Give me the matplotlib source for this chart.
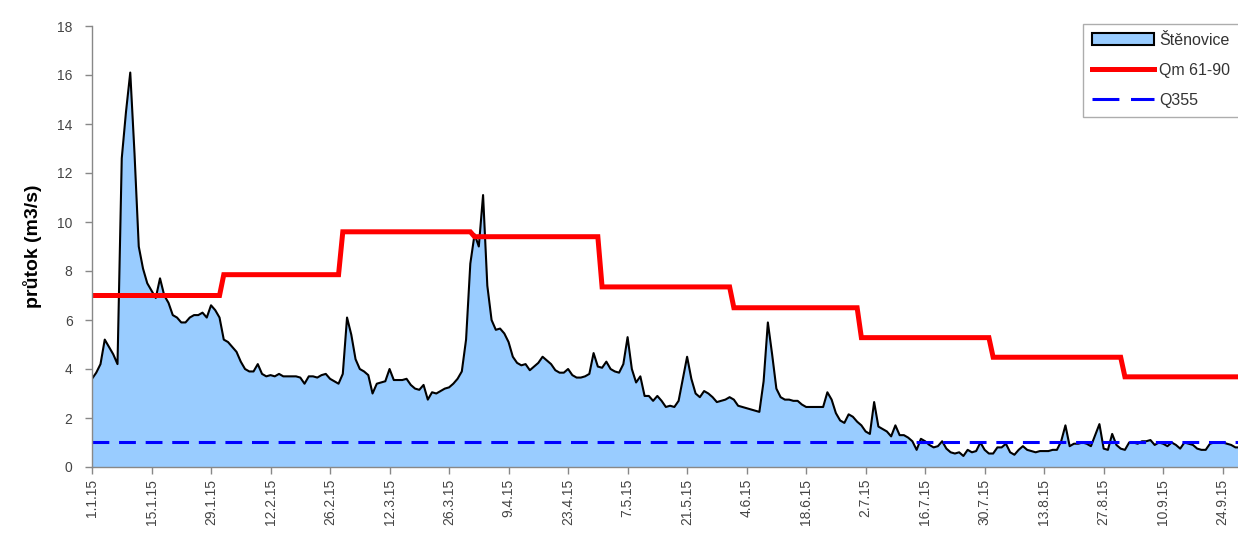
import numpy as np
import matplotlib
matplotlib.use("Agg")
import matplotlib.pyplot as plt
from matplotlib.patches import Patch
from matplotlib.lines import Line2D

# daily flow at Štěnovice, 1.1.2015 - 28.9.2015 (m3/s)
flow = [
    3.6, 3.85, 4.2, 5.2, 4.9, 4.6, 4.2, 12.6, 14.5, 16.1,
    12.8, 9.0, 8.1, 7.5, 7.2, 6.9, 7.7, 7.0, 6.7, 6.2,
    6.1, 5.9, 5.9, 6.1, 6.2, 6.2, 6.3, 6.1, 6.6, 6.4,
    6.1, 5.2, 5.1, 4.9, 4.7,
    4.3, 4.0, 3.9, 3.9, 4.2, 3.8, 3.7, 3.75, 3.7, 3.8,
    3.7, 3.7, 3.7, 3.7, 3.65, 3.4, 3.7, 3.7, 3.65, 3.75,
    3.8, 3.6, 3.5, 3.4, 3.8, 6.1, 5.4, 4.4, 4.0, 3.9,
    3.75, 3.0,
    3.4, 3.45, 3.5, 4.0, 3.55, 3.55, 3.55, 3.6, 3.35, 3.2,
    3.15, 3.35, 2.75, 3.05, 3.0, 3.1, 3.2, 3.25, 3.4, 3.6,
    3.9, 5.2, 8.3, 9.5, 9.0, 11.1, 7.4, 6.0, 5.6, 5.65,
    5.45, 5.1, 4.5,
    4.25, 4.15, 4.2, 3.95, 4.1, 4.25, 4.5, 4.35, 4.2, 3.95,
    3.85, 3.85, 4.0, 3.75, 3.65, 3.65, 3.7, 3.8, 4.65, 4.1,
    4.05, 4.3, 4.0, 3.9, 3.85, 4.2, 5.3, 4.0, 3.45, 3.7,
    2.9, 2.9, 2.7,
    2.9, 2.7, 2.45, 2.5, 2.45, 2.7, 3.6, 4.5, 3.6, 3.0,
    2.85, 3.1, 3.0, 2.85, 2.65, 2.7, 2.75, 2.85, 2.75, 2.5,
    2.45, 2.4, 2.35, 2.3, 2.25, 3.5, 5.9, 4.6, 3.2, 2.85,
    2.75, 2.75, 2.7,
    2.7, 2.55, 2.45, 2.45, 2.45, 2.45, 2.45, 3.05, 2.75, 2.2,
    1.9, 1.8, 2.15, 2.05, 1.85, 1.7, 1.45, 1.35, 2.65, 1.65,
    1.55, 1.45, 1.25, 1.7, 1.3, 1.3, 1.2, 1.05, 0.7, 1.15,
    1.05, 0.9, 0.8,
    0.85, 1.05, 0.75, 0.6, 0.55, 0.6, 0.45, 0.7, 0.6, 0.65,
    1.0, 0.7, 0.55, 0.55, 0.8, 0.8, 0.95, 0.6, 0.5, 0.7,
    0.85, 0.7, 0.65, 0.6, 0.65, 0.65, 0.65, 0.7, 0.7, 1.05,
    1.7, 0.85, 0.95, 0.95,
    1.0, 0.95, 0.85, 1.3, 1.75, 0.75, 0.7, 1.35, 0.9, 0.75,
    0.7, 1.0, 1.0, 0.95, 1.05, 1.05, 1.1, 0.9, 1.0, 0.95,
    0.85, 1.0, 0.9, 0.75, 1.0, 0.95, 0.9, 0.75, 0.7, 0.7,
    0.95, 1.0, 1.0, 1.0, 0.95, 0.9, 0.8, 0.8,
]

# long-term monthly means Qm 61-90 (Jan..Sep) and month lengths 2015
qm_monthly = [7.0, 7.85, 9.6, 9.4, 7.35, 6.5, 5.28, 4.48, 3.68]
month_days = [31, 28, 31, 30, 31, 30, 31, 31, 30]
q355 = 1.02

tick_labels = ["1.1.15", "15.1.15", "29.1.15", "12.2.15", "26.2.15", "12.3.15",
               "26.3.15", "9.4.15", "23.4.15", "7.5.15", "21.5.15", "4.6.15",
               "18.6.15", "2.7.15", "16.7.15", "30.7.15", "13.8.15", "27.8.15",
               "10.9.15", "24.9.15"]

plt.rcParams['font.family'] = ['Liberation Sans', 'DejaVu Sans']

days = np.arange(len(flow))
qm_daily = np.repeat(qm_monthly, month_days)[:len(flow)]

fig = plt.figure(figsize=(12.38, 5.39), dpi=100)
ax = fig.add_axes([92 / 1238, 72 / 539, 1 - 92 / 1238, 441 / 539])

ax.fill_between(days, flow, 0, color='#99CCFF', lw=0)
ax.plot(days, flow, color='black', lw=1.5)
ax.plot(days, qm_daily, color='#FF0000', lw=3.6, solid_joinstyle='miter')
ax.axhline(q355, color='#0000FF', lw=2.2, dashes=(5.5, 3.2))

ax.set_xlim(0, 269.6)
ax.set_ylim(0, 18)
ax.set_yticks(np.arange(0, 19, 2))
ax.set_xticks(np.arange(0, 14 * len(tick_labels), 14))
ax.set_xticklabels(tick_labels, rotation=90)

for s in ['top', 'right']:
    ax.spines[s].set_visible(False)
for s in ['left', 'bottom']:
    ax.spines[s].set_color('#888888')
    ax.spines[s].set_linewidth(1.0)
ax.tick_params(axis='both', direction='out', length=5, width=1.0, color='#888888',
               labelsize=10, labelcolor='#444444')
ax.tick_params(axis='y', pad=9)

ax.set_ylabel("průtok (m3/s)", fontsize=14, fontweight='bold', labelpad=11)

handles = [Patch(facecolor='#99CCFF', edgecolor='black', lw=1.5),
           Line2D([], [], color='#FF0000', lw=3.6),
           Line2D([], [], color='#0000FF', lw=2.2, dashes=(8.8, 3.8))]
leg = ax.legend(handles, ["Štěnovice", "Qm 61-90", "Q355"],
                loc='upper left', bbox_to_anchor=(1083 / 1238, 1 - 24 / 539),
                bbox_transform=fig.transFigure, borderaxespad=0,
                fontsize=11.5, frameon=True,
                fancybox=False, handlelength=3.9, handletextpad=0.3,
                labelspacing=0.95, borderpad=0.55, handleheight=0.8)
leg.get_frame().set_edgecolor('#999999')
leg.get_frame().set_linewidth(1.0)
for t in leg.get_texts():
    t.set_color('#333333')

fig.savefig("out.png", dpi=100)
